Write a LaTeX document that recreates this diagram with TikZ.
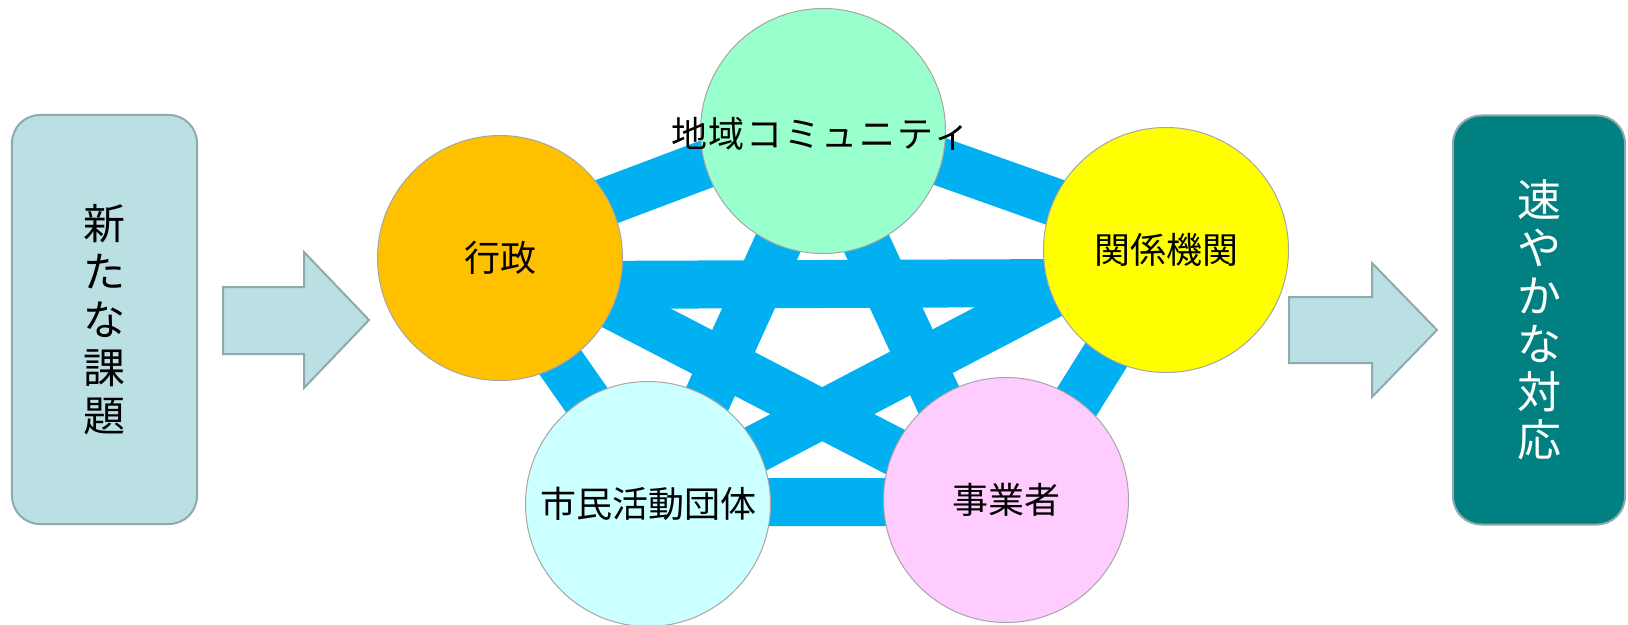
\documentclass[tikz,border=0pt]{standalone}
\usepackage{fontspec}
\newfontfamily\jp{Noto Sans CJK JP}
\definecolor{blueband}{HTML}{00B0F0}
\definecolor{circedge}{HTML}{A6A6A6}
\definecolor{boxedge}{HTML}{8FAAAD}
\definecolor{lightbox}{HTML}{BAE0E3}
\definecolor{tealbox}{HTML}{008080}
\definecolor{gyosei}{HTML}{FFC000}
\definecolor{chiiki}{HTML}{99FFCC}
\definecolor{kankei}{HTML}{FFFF00}
\definecolor{shimin}{HTML}{CCFFFF}
\definecolor{jigyo}{HTML}{FFCCFF}
\tikzset{
  band/.style={line width=48bp, draw=blueband, line cap=butt},
  member/.style={circle, draw=circedge, line width=1bp, minimum size=245bp, inner sep=0pt,
    font=\jp\fontsize{36bp}{40bp}\selectfont},
  memberlabel/.style={inner sep=0pt, font=\jp\fontsize{36bp}{40bp}\selectfont},
  sidebox/.style={rectangle, rounded corners=28bp, draw=boxedge, line width=2bp,
    minimum width=185bp, minimum height=409bp, align=center, inner sep=0pt},
  bigarrow/.style={fill=lightbox, draw=boxedge, line width=2bp, line join=miter}
}
\newcommand{\gp}{\kern1.7bp}
\begin{document}
\begin{tikzpicture}[x=1bp,y=-1bp]
\useasboundingbox (0,0) rectangle (1628,625);
\fill[white] (0,0) rectangle (1628,625);

% pentagon corners
\coordinate (p1) at (823,120);
\coordinate (p2) at (1175,245);
\coordinate (p3) at (1014,502);
\coordinate (p4) at (658,502);
\coordinate (p5) at (481,249);
% star corners
\coordinate (s1) at (822,147);
\coordinate (s2) at (1073,283);
\coordinate (s3) at (984,498);
\coordinate (s4) at (662,498);
\coordinate (s5) at (573,285);

\draw[band, line join=round] (p1) -- (p2) -- (p3) -- (p4) -- (p5) -- cycle;
\draw[band] (s1) -- (s4);
\draw[band] (s1) -- (s3);
\draw[band] (s5) -- (s2);
\draw[band] (s5) -- (s3);
\draw[band] (s2) -- (s4);

% side boxes
\node[sidebox, fill=lightbox, font=\jp\fontsize{42bp}{48bp}\selectfont] (issue) at (104.5,319.5) {新\\た\\な\\課\\題};
\node[sidebox, fill=tealbox, minimum width=172bp, text=white, font=\jp\fontsize{44bp}{48bp}\selectfont] (resp) at (1539,320) {速\\や\\か\\な\\対\\応};

% arrows
\path[bigarrow] (223,287) -- (304,287) -- (304,252) -- (369,320) -- (304,388) -- (304,354) -- (223,354) -- cycle;
\path[bigarrow] (1289,297) -- (1372,297) -- (1372,263) -- (1437,330) -- (1372,397) -- (1372,363) -- (1289,363) -- cycle;

% members
\node[member, fill=gyosei] (gyosei) at (500,258) {\raisebox{-3bp}{行政}};
\node[member, fill=chiiki] (chiiki) at (823,131) {};
\node[memberlabel] (chiikilabel) at (821,134) {地\gp 域\gp コ\gp ミ\gp ュ\gp ニ\gp テ\gp ィ};
\node[member, fill=kankei] (kankei) at (1166,250) {\raisebox{-3bp}{関係機関}};
\node[member, fill=shimin] (shimin) at (648,504) {\raisebox{-3bp}{市民活動団体}};
\node[member, fill=jigyo] (jigyo) at (1006,500) {\raisebox{-3bp}{事業者}};
\end{tikzpicture}
\end{document}
